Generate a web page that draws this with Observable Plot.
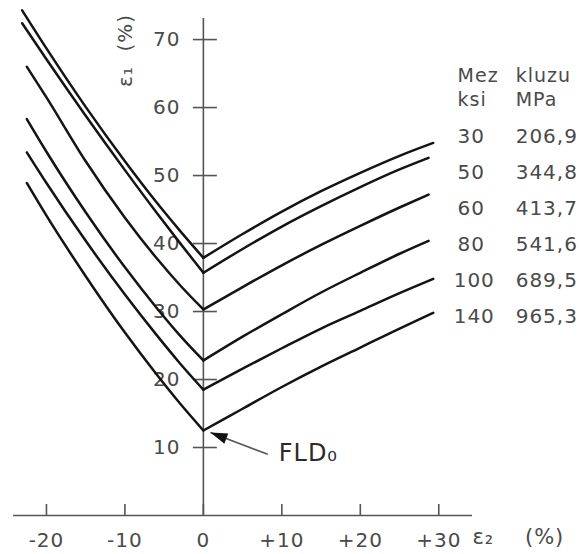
<!DOCTYPE html>
<html><head><meta charset="utf-8">
<script src="https://cdn.jsdelivr.net/npm/d3@7"></script>
<script src="https://cdn.jsdelivr.net/npm/@observablehq/plot@0.6"></script>
<style>body{margin:0;background:#fff;} svg{display:block;}</style>
</head><body><div id="chart"></div>
<script>
// Legend: yield strength
const ksi = [30, 50, 60, 80, 100, 140];
const mpa = ["206,9", "344,8", "413,7", "541,6", "689,5", "965,3"];
const legendHeader = [["Mez", "kluzu"], ["ksi", "MPa"]];

// Forming limit curves, points [ε2 %, ε1 %]
const left30  = [[-23.1,74.3],[-20,68.7],[-15,60.1],[-10,52.1],[-6,46.1],[-3,41.9],[0,37.9]];
const right30 = [[0,37.9],[5,41.4],[10,44.7],[15,47.7],[20,50.4],[25,52.9],[29.3,54.8]];
const left50  = [[-23.1,72.4],[-20,67.1],[-15,58.8],[-10,50.8],[-6,44.6],[-3,40.1],[0,35.7]];
const right50 = [[0,35.7],[5,39.2],[10,42.5],[15,45.5],[20,48.3],[25,50.9],[28.7,52.6]];
const left60  = [[-22.5,66.0],[-20,61.5],[-15,52.1],[-10,43.8],[-6,37.9],[-3,33.9],[0,30.3]];
const right60 = [[0,30.3],[5,33.6],[10,36.8],[15,39.8],[20,42.6],[25,45.3],[28.7,47.2]];
const left80  = [[-22.5,58.3],[-20,53.5],[-15,44.6],[-10,36.5],[-6,30.6],[-3,26.5],[0,22.8]];
const right80 = [[0,22.8],[5,26.3],[10,29.6],[15,32.8],[20,35.7],[25,38.5],[28.7,40.4]];
const left100 = [[-22.5,53.4],[-20,48.9],[-15,40.4],[-10,32.5],[-6,26.6],[-3,22.4],[0,18.5]];
const right100= [[0,18.5],[5,21.6],[10,24.6],[15,27.5],[20,30.1],[25,32.7],[29.3,34.8]];
const left140 = [[-22.5,48.9],[-20,44.1],[-15,35.2],[-10,26.9],[-6,20.8],[-3,16.5],[0,12.5]];
const right140= [[0,12.5],[5,15.7],[10,18.9],[15,21.9],[20,24.7],[25,27.5],[29.3,29.8]];

// Axes
const xTicks = [-20, -10, 0, 10, 20, 30];
const xTickLabels = ["-20", "-10", "0", "+10", "+20", "+30"];
const yTicks = [10, 20, 30, 40, 50, 60, 70];
const xLabel = "ε\u2082\u00a0\u00a0\u00a0 (%)";
const yLabel = "ε\u2081\u00a0 (%)";

// FLD0 annotation [ε2, ε1]
const fldText = "FLD\u2080";
const fldTip = [0.9, 12.2];
const fldTail = [8.2, 9.0];
const fldTextPos = [9.6, 9.2];
const yLabelPos = [-9.9, 68.4];

const branches = [
  [30, "L", left30], [30, "R", right30],
  [50, "L", left50], [50, "R", right50],
  [60, "L", left60], [60, "R", right60],
  [80, "L", left80], [80, "R", right80],
  [100, "L", left100], [100, "R", right100],
  [140, "L", left140], [140, "R", right140]
];
const rows = branches.flatMap(([k, side, pts]) => pts.map(([x, y]) => ({k, side, x, y})));

const textColor = "#4a4a4a";
const font = "DejaVu Sans";

// legend layout (in axis units)
const col1 = 32.4, col2 = 39.8;
const rowY = i => 55.7 - 5.3 * i;
const headY = [64.6, 61.1];

const legendRows = ksi.map((v, i) => ({a: String(v), b: mpa[i], y: rowY(i)}));
const headRows = legendHeader.map((h, i) => ({a: h[0], b: h[1], y: headY[i]}));

const arrowHead = {
  draw(ctx) {
    ctx.moveTo(0, 0);
    ctx.lineTo(-5.5, 17);
    ctx.lineTo(5.5, 17);
    ctx.closePath();
  }
};

const txt = {fontFamily: font, fill: textColor, lineAnchor: "middle"};

const chart = Plot.plot({
  width: 581,
  height: 554,
  marginLeft: 13,
  marginRight: 109,
  marginTop: 18,
  marginBottom: 39,
  x: {domain: [-24.2, 34.3], axis: null},
  y: {domain: [0, 73.1], axis: null},
  style: {fontFamily: font, background: "#fff", letterSpacing: "1px"},
  marks: [
    // y tick labels (under curves)
    Plot.text(yTicks, {...txt, x: 0, y: d => d, text: d => String(d), dx: -23, textAnchor: "end", fontSize: 20}),
    // axes lines
    Plot.ruleX([0], {stroke: "#555", strokeWidth: 1.6}),
    Plot.ruleY([0], {stroke: "#555", strokeWidth: 1.6}),
    // y ticks crossing the axis
    Plot.ruleY(yTicks, {x1: 0, x2: 0, insetLeft: -10, insetRight: -14, stroke: "#555", strokeWidth: 1.6}),
    // x ticks above the axis
    Plot.ruleX(xTicks, {y1: 0, y2: 0, insetTop: -11, stroke: "#555", strokeWidth: 1.6}),
    // x tick labels
    Plot.text(xTicks, {...txt, x: d => d, y: 0, text: (d, i) => xTickLabels[i], dy: 25, textAnchor: "middle", fontSize: 20}),
    // axis titles
    Plot.text([xLabel], {...txt, frameAnchor: "bottom-right", text: d => d, textAnchor: "start", lineAnchor: "middle",
      dx: 0, dy: 22, fontSize: 21}),
    Plot.text([yLabel], {...txt, x: yLabelPos[0], y: yLabelPos[1], text: d => d, textAnchor: "middle", lineAnchor: "middle",
      rotate: -90, fontSize: 20}),
    // curves
    Plot.line(rows, {x: "x", y: "y", z: d => d.k + d.side, curve: "monotone-x",
      stroke: "#141414", strokeWidth: 2.5, strokeLinecap: "round", strokeLinejoin: "round"}),
    // legend
    Plot.text(headRows, {...txt, x: col1, y: "y", text: "a", textAnchor: "start", fontSize: 19}),
    Plot.text(headRows, {...txt, x: col2, y: "y", text: "b", textAnchor: "start", fontSize: 19}),
    Plot.text(legendRows, {...txt, x: d => d.a.length > 2 ? col1 - 0.5 : col1, y: "y", text: "a", textAnchor: "start", fontSize: 20}),
    Plot.text(legendRows, {...txt, x: col2, y: "y", text: "b", textAnchor: "start", fontSize: 20}),
    // FLD0 annotation
    Plot.link([0], {x1: fldTail[0], y1: fldTail[1], x2: fldTip[0], y2: fldTip[1], stroke: "#555", strokeWidth: 1.6}),
    Plot.dot([0], {x: fldTip[0], y: fldTip[1], symbol: arrowHead, r: 5, fill: "#111", stroke: "none", rotate: -69}),
    Plot.text([fldText], {...txt, x: fldTextPos[0], y: fldTextPos[1], text: d => d, textAnchor: "start",
      fontSize: 24, fill: "#2a2a2a"})
  ]
});
document.getElementById("chart").appendChild(chart);
</script>
</body></html>
